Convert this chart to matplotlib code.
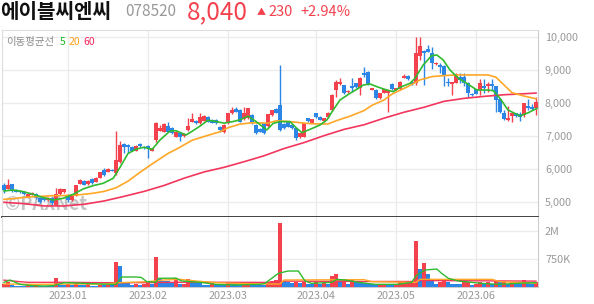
import numpy as np
import matplotlib
matplotlib.use("Agg")
import matplotlib.pyplot as plt

plt.rcParams['font.family'] = ['Noto Sans CJK KR', 'DejaVu Sans']

# ---- data (daily candles, Dec 2022 - Jun 2023) ----
opens = [5520, 5400, 5540, 5360, 5340, 5310, 5160, 5210, 5230, 5130,
         5110, 5060, 5110, 4920, 5230, 5300, 5200, 5060, 5190, 5560,
         5640, 5540, 5700, 5620, 5740, 5970, 5920, 5980, 5870, 6220,
         6750, 6730, 6660, 6560, 6760, 6680, 6700, 6560, 6880, 7160,
         7130, 7300, 7230, 6980, 7100, 7000, 7180, 7430, 7450, 7380,
         7460, 7570, 7490, 7490, 7280, 7130, 7380, 7690, 7810, 7790,
         7500, 7540, 7640, 7330, 7210, 7380, 7300, 7640, 7820, 7940,
         7350, 7430, 7330, 7230, 6960, 6980, 7540, 7400, 7690, 7590,
         7440, 7570, 7790, 8390, 8580, 8550, 8320, 8520, 8600, 8440,
         8920, 8950, 8390, 8390, 8140, 8310, 8310, 8580, 8390, 8410,
         8770, 8820, 8650, 8600, 9420, 9580, 9630, 9520, 9170, 9150,
         9120, 8650, 8580, 8620, 8800, 8780, 8620, 8270, 8410, 8390,
         8520, 8500, 8580, 8500, 8110, 7710, 7490, 7610, 7690, 7670,
         7640, 7910, 7890, 7840]
highs = [5570, 5700, 5550, 5380, 5350, 5340, 5250, 5290, 5260, 5150,
         5120, 5150, 5140, 5420, 5410, 5400, 5230, 5200, 5520, 5700,
         5660, 5660, 5720, 5750, 5920, 6020, 6040, 6000, 7160, 6850,
         6780, 6760, 6690, 6720, 6790, 6700, 6720, 6640, 7430, 7330,
         7400, 7410, 7260, 7150, 7120, 7080, 7540, 7690, 7480, 7690,
         7640, 7600, 7510, 7510, 7300, 7360, 7700, 7890, 7890, 7810,
         7890, 7860, 7660, 7350, 7230, 7400, 7680, 7800, 7840, 9150,
         7380, 7450, 7350, 7250, 7100, 7400, 7560, 7520, 7710, 7610,
         7550, 7720, 8260, 8700, 8750, 8560, 8380, 8750, 8620, 8800,
         9080, 8970, 8460, 8410, 8300, 8420, 8400, 8600, 8460, 8660,
         8890, 8850, 8670, 9990, 9990, 9600, 9760, 9710, 9240, 9200,
         9140, 8750, 8640, 8920, 8900, 8900, 8650, 8290, 8430, 8720,
         8720, 8650, 8720, 8520, 8130, 7790, 7910, 7700, 7710, 7740,
         8010, 8110, 7970, 8190]
lows = [5260, 5390, 5310, 5300, 5280, 5210, 5140, 5200, 5100, 4980,
        5040, 5040, 4910, 4900, 5220, 5270, 5000, 5040, 5180, 5540,
        5500, 5520, 5550, 5600, 5730, 5800, 5900, 5930, 5820, 6170,
        6470, 6470, 6530, 6540, 6680, 6600, 6320, 6530, 6830, 7140,
        7120, 7120, 7060, 6960, 6860, 6980, 7160, 7410, 7360, 7360,
        7440, 7420, 7380, 7360, 7130, 7100, 7360, 7670, 7720, 7420,
        7480, 7520, 7360, 7060, 7130, 7060, 7280, 7620, 7690, 7160,
        7210, 7270, 7210, 6880, 6940, 6960, 7420, 7380, 7550, 7470,
        7420, 7550, 7770, 8190, 8560, 8280, 8300, 8340, 8460, 8240,
        8800, 8540, 8380, 8130, 8120, 8290, 7740, 8400, 8380, 8400,
        8750, 8700, 8560, 8540, 9300, 8540, 9540, 9020, 9150, 8900,
        8510, 8500, 8240, 8600, 8600, 8520, 8170, 8210, 8260, 8240,
        8290, 8340, 8390, 7740, 7700, 7480, 7460, 7430, 7590, 7460,
        7570, 7780, 7780, 7640]
closes = [5360, 5520, 5360, 5310, 5290, 5230, 5230, 5260, 5110, 5010,
          5060, 5130, 4960, 5240, 5390, 5390, 5060, 5190, 5500, 5670,
          5520, 5640, 5570, 5740, 5900, 5820, 6000, 5950, 6270, 6730,
          6680, 6660, 6560, 6700, 6700, 6630, 6630, 6630, 7380, 7230,
          7360, 7130, 7080, 7130, 6980, 7060, 7300, 7500, 7380, 7590,
          7610, 7430, 7400, 7380, 7180, 7330, 7690, 7790, 7740, 7430,
          7690, 7840, 7380, 7080, 7130, 7080, 7670, 7790, 7710, 7180,
          7230, 7280, 7230, 6930, 7080, 7380, 7440, 7500, 7570, 7490,
          7540, 7710, 8240, 8650, 8650, 8290, 8360, 8440, 8480, 8750,
          8850, 8550, 8440, 8140, 8290, 8410, 8390, 8410, 8440, 8650,
          8820, 8720, 8580, 9520, 9730, 9520, 9560, 9220, 9220, 9100,
          8820, 8600, 8630, 8820, 8700, 8600, 8310, 8230, 8270, 8600,
          8440, 8580, 8520, 8090, 7740, 7510, 7540, 7690, 7610, 7570,
          7990, 7840, 7810, 8040]

# volume in thousands of shares
volumes = [72, 134, 46, 28, 19, 15, 46, 28, 46, 22,
           18, 15, 13, 233, 46, 40, 63, 46, 135, 46,
           40, 63, 28, 25, 46, 37, 55, 46, 671, 555,
           108, 90, 55, 63, 46, 72, 108, 63, 805, 224,
           153, 140, 117, 224, 63, 72, 215, 153, 117, 99,
           46, 40, 90, 63, 46, 40, 135, 99, 63, 55,
           81, 90, 63, 60, 55, 46, 117, 162, 170, 1707,
           153, 135, 90, 135, 90, 117, 81, 63, 117, 63,
           90, 63, 287, 340, 180, 190, 72, 180, 117, 110,
           100, 90, 63, 46, 63, 72, 63, 46, 63, 117,
           120, 125, 135, 1225, 474, 627, 340, 153, 72, 117,
           180, 117, 72, 70, 65, 117, 135, 46, 63, 135,
           90, 117, 72, 180, 135, 140, 72, 117, 72, 65,
           180, 117, 63, 117]

# moving average lines (candle index, value)
ma5_idx = [0, 2.3, 4.8, 7.3, 9.8, 12.3, 14.8, 17.3, 19.8, 22.3, 24.8, 27.3,
           29, 31, 33, 35, 37, 39, 41.5, 43, 45.5, 47, 49, 51, 53, 55, 57,
           59, 61, 63, 65.7, 67.3, 69, 71.5, 73.2, 74.5, 76.5, 79, 80.7,
           82.3, 84, 86.5, 88.2, 89.8, 91.5, 93.2, 95, 97.3, 99, 101.5,
           102.75, 104.8, 106.9, 108.2, 109.8, 111.5, 113.6, 115.7, 118.2,
           120.7, 122.3, 124, 126, 129, 131.1, 133.2]
ma5_val = [5334, 5364, 5314, 5233, 5132, 5061, 5111, 5233, 5395, 5496, 5566, 5718,
           6050, 6470, 6600, 6660, 6590, 6880, 7150, 7160, 7030, 7140, 7300, 7480,
           7440, 7390, 7430, 7490, 7600, 7440, 7182, 7384, 7435, 7435, 7232, 7101,
           7202, 7333, 7485, 7788, 8091, 8293, 8414, 8545, 8576, 8495, 8420, 8343,
           8475, 8596, 8748, 9151, 9434, 9455, 9303, 9000, 8748, 8596, 8394, 8394,
           8374, 8141, 7788, 7606, 7707, 7838]
ma20_idx = [0, 3, 5, 9, 12, 15, 19, 22, 25, 28, 31, 34, 37, 41, 44, 47, 51,
            54, 56, 59, 62, 66, 68, 71, 76, 78, 81, 83, 86.5, 90, 92, 95, 97,
            101, 104, 107, 110, 113, 117, 121, 123, 125, 127, 130, 133]
ma20_val = [5080, 5110, 5140, 5170, 5190, 5195, 5220, 5260, 5320, 5430, 5630,
            5900, 6150, 6470, 6660, 6870, 7020, 7130, 7250, 7360, 7400, 7390,
            7460, 7440, 7380, 7365, 7365, 7460, 7600, 7770, 7930, 8090, 8270,
            8500, 8700, 8800, 8830, 8850, 8850, 8850, 8780, 8545, 8313, 8210,
            8130]
ma60_idx = [0, 5, 10, 15, 20, 25, 30, 35, 40, 45, 50, 55, 60, 65, 70, 75,
            80, 85, 90, 95, 100, 105, 110, 115, 120, 125, 130, 133]
ma60_val = [4990, 4950, 4880, 4880, 4930, 5030, 5170, 5320, 5500, 5720, 5910,
            6050, 6220, 6400, 6620, 6800, 7010, 7200, 7340, 7540, 7720, 7870,
            8050, 8140, 8200, 8250, 8280, 8300]

# volume moving averages (thousands)
vma5_idx = [0, 1.5, 4, 7, 10, 12.3, 15, 18, 22, 27, 28, 29.4, 33, 34.3, 35.7,
            38, 38.6, 43, 44.4, 49, 53, 57, 64, 65.25, 68.6, 71, 73.6, 75.25,
            76.9, 81.9, 83.2, 85.25, 88.6, 92.75, 98.6, 101.9, 103.2, 105.25,
            108.2, 109.4, 111.1, 113.6, 119.4, 123.6, 128.6, 133]
vma5_val = [117, 180, 63, 28, 19, 28, 108, 100, 80, 63, 63, 260, 260, 250, 135,
            120, 224, 230, 153, 117, 63, 46, 63, 90, 358, 420, 420, 153,
            90, 117, 197, 180, 117, 63, 63, 117, 313, 447,
            474, 358, 224, 153, 90, 63, 90, 108]
vma20_idx = [0, 8, 17, 25, 29, 36, 40, 44, 48, 53, 58, 66, 69, 70, 90, 92, 102,
             103, 104, 122, 124, 133]
vma20_val = [72, 63, 72, 72, 108, 135, 180, 197, 153, 108, 90, 72, 72, 180, 189,
             135, 117, 117, 197, 197, 135, 90]
vma60_idx = [0, 4, 6, 17, 25, 35, 45, 60, 69, 70, 90, 103, 104, 133]
vma60_val = [175, 135, 117, 117, 108, 108, 120, 117, 115, 150, 140, 140, 165, 150]

month_idx = [16, 36, 56, 78, 98, 118]
month_labels = ['2023.01', '2023.02', '2023.03', '2023.04', '2023.05', '2023.06']
price_ticks = [5000, 6000, 7000, 8000, 9000, 10000]
vol_ticks = [750000, 1500000]
vol_tick_labels = ['750K', '2M']

RED = '#f4414e'
BLUE = '#2b86e6'
C_MA5 = '#2fba2f'
C_MA20 = '#ffa726'
C_MA60 = '#f2365c'
GRID = '#ececec'
TXT = '#999999'

W, H = 594, 304
fig = plt.figure(figsize=(W / 100, H / 100), dpi=100)


def box(left, top, right, bottom):
    return [left / W, 1 - bottom / H, (right - left) / W, (bottom - top) / H]


ax = fig.add_axes(box(2, 30, 538, 217))
axv = fig.add_axes(box(2, 217.3, 538, 286.7), sharex=ax)

o = np.array(opens)
h = np.array(highs)
l = np.array(lows)
c = np.array(closes)
x = np.arange(len(o))
up = c >= o
cols = np.where(up, RED, BLUE)

# --- price panel ---
ax.vlines(x, l, h, colors=cols, linewidth=1.0, zorder=3)
body = np.maximum(np.abs(c - o), 15)
ax.bar(x, body, bottom=np.minimum(o, c), width=0.8, color=cols, zorder=3)
ax.plot(ma60_idx, ma60_val, color=C_MA60, lw=1.2, zorder=4)
ax.plot(ma20_idx, ma20_val, color=C_MA20, lw=1.2, zorder=4)
ax.plot(ma5_idx, ma5_val, color=C_MA5, lw=1.2, zorder=4)

ax.set_xlim(-0.5, len(o) - 0.5)
ax.set_ylim(4545, 10212)
ax.set_yticks(price_ticks)
ax.set_yticklabels([f'{t:,}' for t in price_ticks])
ax.yaxis.tick_right()
ax.tick_params(axis='y', length=0, pad=5, labelsize=7.8, labelcolor=TXT)
ax.tick_params(axis='x', length=0, labelbottom=False)
ax.set_xticks(month_idx)
ax.grid(True, color=GRID, lw=1.0, zorder=0)
for s in ['top', 'left']:
    ax.spines[s].set_color('#dddddd')
ax.spines['right'].set_color('#cccccc')
ax.spines['bottom'].set_color('#333333')
ax.spines['bottom'].set_linewidth(1.3)

ax.text(0.008, 0.935, '이동평균선', transform=ax.transAxes, fontsize=7.5,
        color='#8a8a8a', va='center')
ax.text(0.107, 0.935, '5', transform=ax.transAxes, fontsize=7.5,
        color='#22bb22', va='center')
ax.text(0.124, 0.935, '20', transform=ax.transAxes, fontsize=7.5,
        color='#ffa020', va='center')
ax.text(0.152, 0.935, '60', transform=ax.transAxes, fontsize=7.5,
        color='#f0245a', va='center')
ax.text(0.006, 0.065, '©PAXNet', transform=ax.transAxes, fontsize=13,
        fontweight='bold', color='#b0b0b0', alpha=0.75, va='center', zorder=2)

# --- volume panel ---
v = np.array(volumes) * 1000.0
vcols = [RED] + [RED if v[i] >= v[i - 1] else BLUE for i in range(1, len(v))]
axv.bar(x, v, width=0.8, color=vcols, zorder=3)
axv.plot(vma60_idx, np.array(vma60_val) * 1000, color=C_MA60, lw=1.0, zorder=4)
axv.plot(vma20_idx, np.array(vma20_val) * 1000, color=C_MA20, lw=1.0, zorder=4)
axv.plot(vma5_idx, np.array(vma5_val) * 1000, color=C_MA5, lw=1.0, zorder=4)
axv.set_ylim(0, 1.86e6)
axv.set_yticks(vol_ticks)
axv.set_yticklabels(vol_tick_labels)
axv.yaxis.tick_right()
axv.tick_params(axis='y', length=0, pad=5, labelsize=7.8, labelcolor=TXT)
axv.set_xticks(month_idx)
axv.set_xticklabels(month_labels)
axv.tick_params(axis='x', length=0, pad=3, labelsize=7.8, labelcolor=TXT)
axv.grid(True, color=GRID, lw=1.0, zorder=0)
axv.spines['top'].set_visible(False)
axv.spines['left'].set_color('#dddddd')
axv.spines['right'].set_color('#cccccc')
axv.spines['bottom'].set_color('#cccccc')

# --- header ---
def ftext(px, py, s, **kw):
    fig.text(px / W, 1 - py / H, s, va='center', **kw)


ftext(0, 11, '에이블씨엔씨', fontsize=14.5, fontweight='bold', color='#111111')
ftext(125, 12, '078520', fontsize=11, color='#999999')
ftext(187, 12.5, '8,040', fontsize=17.5, color=RED)
ftext(257, 12.5, '▲', fontsize=6.5, color=RED)
ftext(268, 12.5, '230', fontsize=10.5, color=RED)
ftext(300, 12.5, '+2.94%', fontsize=10.5, color=RED)

fig.savefig('out.png', dpi=100, facecolor='white')
